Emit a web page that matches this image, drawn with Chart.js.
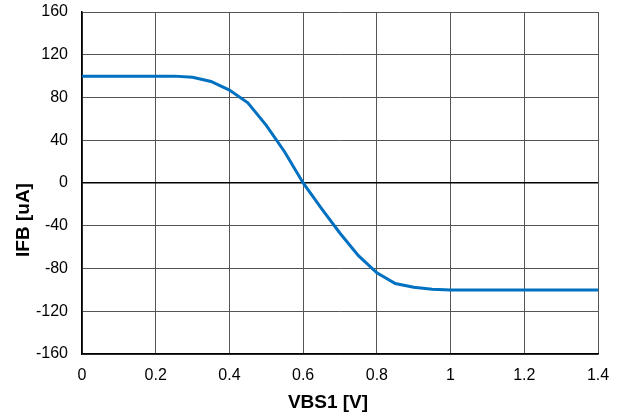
<!DOCTYPE html>
<html>
<head>
<meta charset="utf-8">
<script src="https://cdn.jsdelivr.net/npm/chart.js@4.4.1/dist/chart.umd.min.js"></script>
<style>
  html, body { margin: 0; padding: 0; background: #fff; }
  #wrap { width: 622px; height: 419px; }
</style>
</head>
<body>
<div id="wrap"><canvas id="curve"></canvas></div>
<script>
// VBS1 sweep [V] and IFB [uA]
const vbs = [0, 0.05, 0.1, 0.15, 0.2, 0.25, 0.3, 0.35, 0.4, 0.45, 0.5, 0.55, 0.6, 0.65, 0.7,
  0.75, 0.8, 0.85, 0.9, 0.95, 1.0, 1.05, 1.1, 1.15, 1.2, 1.25, 1.3, 1.35, 1.4];
const ifb = [100, 100, 100, 100, 100, 100, 99, 95, 87, 75, 54, 29, 0, -24, -47,
  -68, -84, -94, -97.5, -99.5, -100, -100, -100, -100, -100, -100, -100, -100, -100];

const xTicks = [0, 0.2, 0.4, 0.6, 0.8, 1, 1.2, 1.4];
const yTicks = [-160, -120, -80, -40, 0, 40, 80, 120, 160];
const xTitle = 'VBS1 [V]';
const yTitle = 'IFB [uA]';

const FONT = "'Liberation Sans', Arial, sans-serif";

// axis titles drawn by hand so they can sit where the original has them
const titles = {
  id: 'titles',
  afterDraw(chart) {
    const ctx = chart.ctx;
    ctx.save();
    ctx.fillStyle = '#000';
    ctx.font = 'bold 19px ' + FONT;
    ctx.textAlign = 'center';
    ctx.textBaseline = 'middle';
    ctx.fillText(xTitle, 328, 403);
    ctx.translate(24, 220);
    ctx.rotate(-Math.PI / 2);
    ctx.fillText(yTitle, 0, 0);
    ctx.restore();
  }
};

const cfg = {
  type: 'line',
  data: {
    datasets: [{
      data: vbs.map((v, i) => ({ x: v, y: ifb[i] })),
      borderColor: '#0070C0',
      borderWidth: 3,
      pointRadius: 0,
      tension: 0,
      fill: false
    }]
  },
  options: {
    responsive: true,
    maintainAspectRatio: false,
    animation: false,
    layout: { padding: { left: 0, top: 12, right: 24, bottom: 0 } },
    plugins: { legend: { display: false }, tooltip: { enabled: false } },
    scales: {
      x: {
        type: 'linear',
        min: 0, max: 1.4,
        afterBuildTicks: s => { s.ticks = xTicks.map(v => ({ value: v })); },
        afterFit: s => { s.height = 65; s.paddingLeft = 0; s.paddingRight = 0; },
        ticks: {
          color: '#000', font: { family: FONT, size: 16 }, padding: 12,
          maxRotation: 0, autoSkip: false,
          callback: v => String(v)
        },
        grid: { color: '#555', lineWidth: 1, drawTicks: false },
        border: { color: '#000', width: 1.5 }
      },
      y: {
        type: 'linear',
        min: -160, max: 160,
        afterBuildTicks: s => { s.ticks = yTicks.map(v => ({ value: v })); },
        afterFit: s => { s.width = 82; s.paddingTop = 0; s.paddingBottom = 0; },
        ticks: {
          color: '#000', font: { family: FONT, size: 16 }, padding: 14,
          autoSkip: false,
          callback: v => String(v)
        },
        grid: {
          color: c => (c.tick && c.tick.value === 0 ? '#000' : '#555'),
          lineWidth: c => (c.tick && c.tick.value === 0 ? 1.5 : 1),
          drawTicks: false
        },
        border: { color: '#000', width: 1.5 }
      }
    }
  },
  plugins: [titles]
};

window.curveChart = new Chart(document.getElementById('curve'), cfg);
</script>
</body>
</html>
